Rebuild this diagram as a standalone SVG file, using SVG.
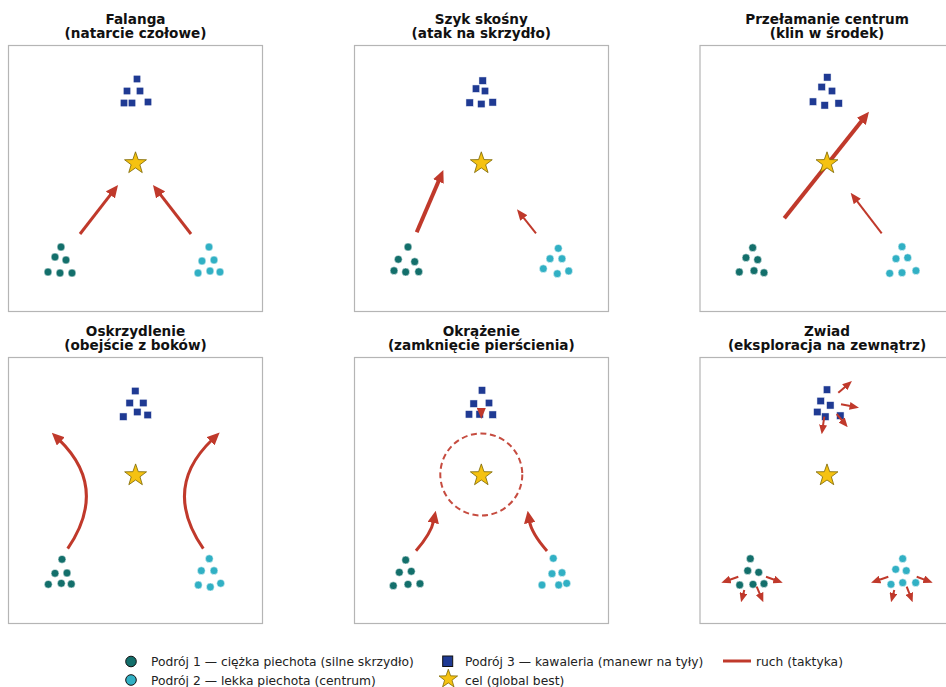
<svg xmlns="http://www.w3.org/2000/svg" xmlns:xlink="http://www.w3.org/1999/xlink" width="946" height="687" viewBox="0 0 946 687">
<style>
.frame{fill:#fff;stroke:#b5b5b5;stroke-width:1.2}
.title{font-family:"DejaVu Sans",sans-serif;font-weight:bold;font-size:13.6px;fill:#111;text-anchor:middle}
.heavy{fill:#136f6b;stroke:#fff;stroke-width:0.5}
.light{fill:#31b0c4;stroke:#fff;stroke-width:0.5}
.cav{fill:#1f3a93;stroke:#fff;stroke-width:0.5}
.mv{fill:none;stroke:#c0392b;stroke-linecap:butt}
.w3{stroke-width:3}
.w4{stroke-width:4}
.w2{stroke-width:2}
.star{fill:#f5c211;stroke:#7a6500;stroke-width:0.8}
.leg{font-family:"DejaVu Sans",sans-serif;font-size:12.3px;fill:#222}
</style>
<defs>
<marker id="hd" markerUnits="userSpaceOnUse" markerWidth="12.5" markerHeight="11.5" viewBox="0 0 12.5 11.5" refX="2.5" refY="5.75" orient="auto"><path d="M0,0L12.5,5.75L0,11.5z" fill="#c0392b"/></marker>
<marker id="hm" markerUnits="userSpaceOnUse" markerWidth="11" markerHeight="9" viewBox="0 0 11 9" refX="4" refY="4.5" orient="auto"><path d="M0,0L11,4.5L0,9z" fill="#c0392b"/></marker>
<marker id="hs" markerUnits="userSpaceOnUse" markerWidth="9.5" markerHeight="8" viewBox="0 0 9.5 8" refX="3.5" refY="4" orient="auto"><path d="M0,0L9.5,4L0,8z" fill="#c0392b"/></marker>
<polygon id="starShape" points="0,-11.5 2.7,-3.72 10.94,-3.55 4.37,1.42 6.76,9.3 0,4.6 -6.76,9.3 -4.37,1.42 -10.94,-3.55 -2.7,-3.72"/>
<rect id="sq" x="-3.75" y="-3.75" width="7.5" height="7.5"/>
</defs>
<rect width="946" height="687" fill="#fff"/>

<!-- Panel 1 -->
<g id="panel-falanga">
<rect class="frame" x="8.5" y="45.5" width="254" height="266"/>
<text class="title" x="135.5" y="23.5">Falanga</text>
<text class="title" x="135.5" y="38">(natarcie czołowe)</text>
<g id="p1-cav" class="cav">
<use href="#sq" x="137" y="79"/><use href="#sq" x="127" y="91"/><use href="#sq" x="140" y="91"/>
<use href="#sq" x="124" y="103"/><use href="#sq" x="132" y="103"/><use href="#sq" x="148" y="102"/>
</g>
<g id="p1-heavy" class="heavy">
<circle cx="61" cy="247" r="3.9"/><circle cx="55" cy="257" r="3.9"/><circle cx="66" cy="260" r="3.9"/>
<circle cx="48" cy="272" r="3.9"/><circle cx="60" cy="273" r="3.9"/><circle cx="72" cy="273" r="3.9"/>
</g>
<g id="p1-light" class="light">
<circle cx="209" cy="247" r="3.9"/><circle cx="202" cy="261" r="3.9"/><circle cx="214" cy="260" r="3.9"/>
<circle cx="198" cy="273" r="3.9"/><circle cx="210" cy="271" r="3.9"/><circle cx="220" cy="272" r="3.9"/>
</g>
</g>

<!-- Panel 2 -->
<g id="panel-szyk">
<rect class="frame" x="354.5" y="45.5" width="254" height="266"/>
<text class="title" x="481.3" y="23.5">Szyk skośny</text>
<text class="title" x="481.3" y="38">(atak na skrzydło)</text>
<g id="p2-cav" class="cav">
<use href="#sq" x="482.7" y="80.7"/><use href="#sq" x="476" y="88.7"/><use href="#sq" x="485" y="91"/>
<use href="#sq" x="469.7" y="102.7"/><use href="#sq" x="481.3" y="104"/><use href="#sq" x="492.7" y="102.3"/>
</g>
<g id="p2-heavy" class="heavy">
<circle cx="408" cy="247" r="3.9"/><circle cx="398.3" cy="259.3" r="3.9"/><circle cx="414.7" cy="261.7" r="3.9"/>
<circle cx="394" cy="270.7" r="3.9"/><circle cx="405.7" cy="272" r="3.9"/><circle cx="418.7" cy="271.7" r="3.9"/>
</g>
<g id="p2-light" class="light">
<circle cx="558.3" cy="248.3" r="3.9"/><circle cx="550" cy="258.7" r="3.9"/><circle cx="562" cy="258.7" r="3.9"/>
<circle cx="543.3" cy="268.7" r="3.9"/><circle cx="557.3" cy="273.7" r="3.9"/><circle cx="568.7" cy="271" r="3.9"/>
</g>
</g>

<!-- Panel 3 -->
<g id="panel-przelamanie">
<rect class="frame" x="700" y="45.5" width="254" height="266"/>
<text class="title" x="827" y="23.5">Przełamanie centrum</text>
<text class="title" x="827" y="38">(klin w środek)</text>
<g id="p3-cav" class="cav">
<use href="#sq" x="827.3" y="77.3"/><use href="#sq" x="821.7" y="87"/><use href="#sq" x="832" y="91"/>
<use href="#sq" x="813" y="101.7"/><use href="#sq" x="824.7" y="105.3"/><use href="#sq" x="838.7" y="103.3"/>
</g>
<g id="p3-heavy" class="heavy">
<circle cx="752.7" cy="247.7" r="3.9"/><circle cx="746" cy="257.7" r="3.9"/><circle cx="757.7" cy="259.7" r="3.9"/>
<circle cx="739.3" cy="272" r="3.9"/><circle cx="754" cy="270.7" r="3.9"/><circle cx="764" cy="272.7" r="3.9"/>
</g>
<g id="p3-light" class="light">
<circle cx="902" cy="246.7" r="3.9"/><circle cx="896" cy="258.7" r="3.9"/><circle cx="907.7" cy="257.7" r="3.9"/>
<circle cx="889.7" cy="273.3" r="3.9"/><circle cx="902" cy="272.7" r="3.9"/><circle cx="916" cy="270.7" r="3.9"/>
</g>
</g>

<!-- Panel 4 -->
<g id="panel-oskrzydlenie">
<rect class="frame" x="8.5" y="357.5" width="254" height="266"/>
<text class="title" x="135.5" y="335.5">Oskrzydlenie</text>
<text class="title" x="135.5" y="350">(obejście z boków)</text>
<g id="p4-cav" class="cav">
<use href="#sq" x="135.3" y="391"/><use href="#sq" x="129.7" y="403"/><use href="#sq" x="143.3" y="403"/>
<use href="#sq" x="137.3" y="412"/><use href="#sq" x="123.3" y="416.7"/><use href="#sq" x="147.7" y="415"/>
</g>
<g id="p4-heavy" class="heavy">
<circle cx="62" cy="559.3" r="3.9"/><circle cx="55" cy="573.3" r="3.9"/><circle cx="67" cy="573" r="3.9"/>
<circle cx="48.3" cy="584.3" r="3.9"/><circle cx="61.3" cy="583.3" r="3.9"/><circle cx="71.3" cy="584" r="3.9"/>
</g>
<g id="p4-light" class="light">
<circle cx="209.3" cy="558.7" r="3.9"/><circle cx="201.3" cy="570.7" r="3.9"/><circle cx="214" cy="570.7" r="3.9"/>
<circle cx="198.3" cy="585" r="3.9"/><circle cx="210.3" cy="587" r="3.9"/><circle cx="220.7" cy="583.3" r="3.9"/>
</g>
</g>

<!-- Panel 5 -->
<g id="panel-okrazenie">
<rect class="frame" x="354.5" y="357.5" width="254" height="266"/>
<text class="title" x="481.3" y="335.5">Okrążenie</text>
<text class="title" x="481.3" y="350">(zamknięcie pierścienia)</text>
<g id="p5-cav" class="cav">
<use href="#sq" x="482" y="390.3"/><use href="#sq" x="473.7" y="403.7"/><use href="#sq" x="489" y="403"/>
<use href="#sq" x="469" y="414.3"/><use href="#sq" x="479.7" y="414.3"/><use href="#sq" x="492.7" y="414.7"/>
</g>
<g id="p5-heavy" class="heavy">
<circle cx="405.7" cy="560" r="3.9"/><circle cx="399.3" cy="572.3" r="3.9"/><circle cx="411.3" cy="571.3" r="3.9"/>
<circle cx="393.3" cy="585.7" r="3.9"/><circle cx="408" cy="584.3" r="3.9"/><circle cx="420" cy="583.7" r="3.9"/>
</g>
<g id="p5-light" class="light">
<circle cx="553.3" cy="558.3" r="3.9"/><circle cx="552" cy="573.7" r="3.9"/><circle cx="562" cy="572.7" r="3.9"/>
<circle cx="542" cy="585" r="3.9"/><circle cx="558.7" cy="585" r="3.9"/><circle cx="566.7" cy="583.3" r="3.9"/>
</g>
</g>

<!-- Panel 6 -->
<g id="panel-zwiad">
<rect class="frame" x="700" y="357.5" width="254" height="266"/>
<text class="title" x="827" y="335.5">Zwiad</text>
<text class="title" x="827" y="350">(eksploracja na zewnątrz)</text>
<g id="p6-cav" class="cav">
<use href="#sq" x="827" y="389.7"/><use href="#sq" x="820.7" y="401"/><use href="#sq" x="830.3" y="405.3"/>
<use href="#sq" x="817.3" y="412"/><use href="#sq" x="825.3" y="416.7"/><use href="#sq" x="840.3" y="415.7"/>
</g>
<g id="p6-heavy" class="heavy">
<circle cx="750.3" cy="558.7" r="3.9"/><circle cx="747.7" cy="570.7" r="3.9"/><circle cx="758.7" cy="572.3" r="3.9"/>
<circle cx="739.7" cy="585" r="3.9"/><circle cx="753" cy="584.3" r="3.9"/><circle cx="764" cy="583.7" r="3.9"/>
</g>
<g id="p6-light" class="light">
<circle cx="902.7" cy="558.7" r="3.9"/><circle cx="895.7" cy="569.3" r="3.9"/><circle cx="906.3" cy="570.7" r="3.9"/>
<circle cx="891" cy="584.3" r="3.9"/><circle cx="902.7" cy="582.7" r="3.9"/><circle cx="915.7" cy="582.7" r="3.9"/>
</g>
</g>

<!-- Connectors -->
<g id="connectors">
<path class="mv w3" d="M80,234L111.9,192.9" marker-end="url(#hd)"/>
<path class="mv w3" d="M191,234L159.1,192.9" marker-end="url(#hd)"/>

<path class="mv w4" d="M416.7,232.3L439.4,179.2" marker-end="url(#hd)"/>
<path class="mv w2" d="M536,233.3L521.3,214.8" marker-end="url(#hm)"/>

<path class="mv w4" d="M784.3,218.3L862.8,119.5" marker-end="url(#hd)"/>
<path class="mv w2" d="M881.7,233.3L854.9,198.3" marker-end="url(#hm)"/>

<path class="mv w3" d="M67.7,548.7Q109,488 59,439.6" marker-end="url(#hd)"/>
<path class="mv w3" d="M203.3,548.7Q161.5,488 212.4,439.5" marker-end="url(#hd)"/>

<circle cx="481.3" cy="474.5" r="41" fill="none" stroke="#c0392b" stroke-width="2" stroke-dasharray="6,3.6" stroke-opacity="0.9"/>
<path class="mv w3" d="M416,550.7Q431.2,533.3 433.75,520.5" marker-end="url(#hd)"/>
<path class="mv w3" d="M547,551Q531.4,533.3 529.3,520.6" marker-end="url(#hd)"/>
<path class="mv w2" d="M481.3,410L481.3,412" marker-end="url(#hm)"/>

<path class="mv w2" d="M838.3,392.7L847.4,384.9" marker-end="url(#hs)"/>
<path class="mv w2" d="M841,404.3L853.1,406.6" marker-end="url(#hs)"/>
<path class="mv w2" d="M836.7,414L843.9,422.7" marker-end="url(#hs)"/>
<path class="mv w2" d="M824.3,416.7L822.6,428.4" marker-end="url(#hs)"/>
<path class="mv w2" d="M738.3,576.7L727,580.7" marker-end="url(#hs)"/>
<path class="mv w2" d="M766,576.7L777.1,580.7" marker-end="url(#hs)"/>
<path class="mv w2" d="M744.3,590L742.6,596.5" marker-end="url(#hs)"/>
<path class="mv w2" d="M756.7,586.7L761,596.8" marker-end="url(#hs)"/>
<path class="mv w2" d="M888.3,576.7L876.7,580.7" marker-end="url(#hs)"/>
<path class="mv w2" d="M916.7,576.7L927.1,580.6" marker-end="url(#hs)"/>
<path class="mv w2" d="M894.3,590L892.6,596.5" marker-end="url(#hs)"/>
<path class="mv w2" d="M906.7,586.7L910.5,596.7" marker-end="url(#hs)"/>
</g>

<!-- Targets -->
<g id="targets" class="star">
<use id="star-1" href="#starShape" x="135.5" y="163.3"/>
<use id="star-2" href="#starShape" x="481.3" y="163.3"/>
<use id="star-3" href="#starShape" x="827" y="163.3"/>
<use id="star-4" href="#starShape" x="135.6" y="475.4"/>
<use id="star-5" href="#starShape" x="481.3" y="475.4"/>
<use id="star-6" href="#starShape" x="827" y="475.4"/>
</g>

<!-- Legend -->
<g id="legend">
<circle cx="131" cy="661.5" r="5.3" fill="#136f6b" stroke="#111" stroke-width="1"/>
<text class="leg" x="151" y="665.8">Podrój 1 — ciężka piechota (silne skrzydło)</text>
<circle cx="131" cy="680" r="5.3" fill="#31b0c4" stroke="#111" stroke-width="1"/>
<text class="leg" x="151" y="685">Podrój 2 — lekka piechota (centrum)</text>
<rect x="442.7" y="656" width="10" height="10.5" fill="#1f3a93" stroke="#111" stroke-width="1"/>
<text class="leg" x="465" y="665.8">Podrój 3 — kawaleria (manewr na tyły)</text>
<use href="#starShape" transform="translate(448.3,679) scale(0.85)" fill="#f5c211" stroke="#7a6500" stroke-width="0.9"/>
<text class="leg" x="465" y="685">cel (global best)</text>
<line x1="723" y1="661" x2="751" y2="661" stroke="#c0392b" stroke-width="3"/>
<text class="leg" x="756" y="665.8">ruch (taktyka)</text>
</g>
</svg>
